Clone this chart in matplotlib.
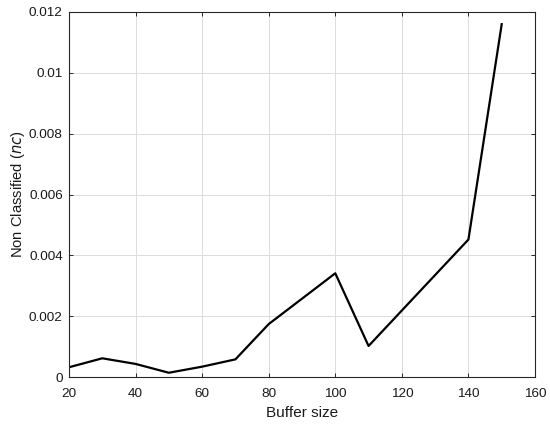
import matplotlib
matplotlib.use("Agg")
import matplotlib.pyplot as plt

plt.rcParams['font.family'] = ['Liberation Sans', 'DejaVu Sans']

buffer_size = [20, 30, 40, 50, 60, 70, 80, 100, 110, 140, 150]
non_classified = [0.00032, 0.000615, 0.00043, 0.00014, 0.00034, 0.00058, 0.00174,
                  0.00341, 0.00102, 0.00452, 0.0116]
x_ticks = [20, 40, 60, 80, 100, 120, 140, 160]
y_ticks = [0, 0.002, 0.004, 0.006, 0.008, 0.01, 0.012]
y_tick_labels = ['0', '0.002', '0.004', '0.006', '0.008', '0.01', '0.012']

fig = plt.figure(figsize=(5.5, 4.29), dpi=100)
ax = fig.add_axes([69/550, 1 - 377/429, (535-69)/550, (377-12)/429])
ax.plot(buffer_size, non_classified, color='black', linewidth=1.6)
ax.set_xlim(20, 160)
ax.set_ylim(0, 0.012)
ax.set_xticks(x_ticks)
ax.set_yticks(y_ticks)
ax.set_yticklabels(y_tick_labels)
ax.grid(True, color='#dcdcdc', linewidth=0.7)
ax.set_axisbelow(True)
ax.tick_params(direction='in', length=3, width=0.7, colors='#262626', labelsize=9.7,
               top=True, right=True)
ax.tick_params(axis='y', pad=4.5)
ax.tick_params(axis='x', pad=8)
ax.tick_params(labelcolor='#1a1a1a')
for s in ax.spines.values():
    s.set_color('#262626')
    s.set_linewidth(0.8)
ax.set_xlabel('Buffer size', fontsize=11, color='#1a1a1a', labelpad=4)
ax.set_ylabel('Non Classified ($\\it{nc}$)', fontsize=10.6, color='#1a1a1a', labelpad=1)
fig.savefig('out.png', dpi=100)
